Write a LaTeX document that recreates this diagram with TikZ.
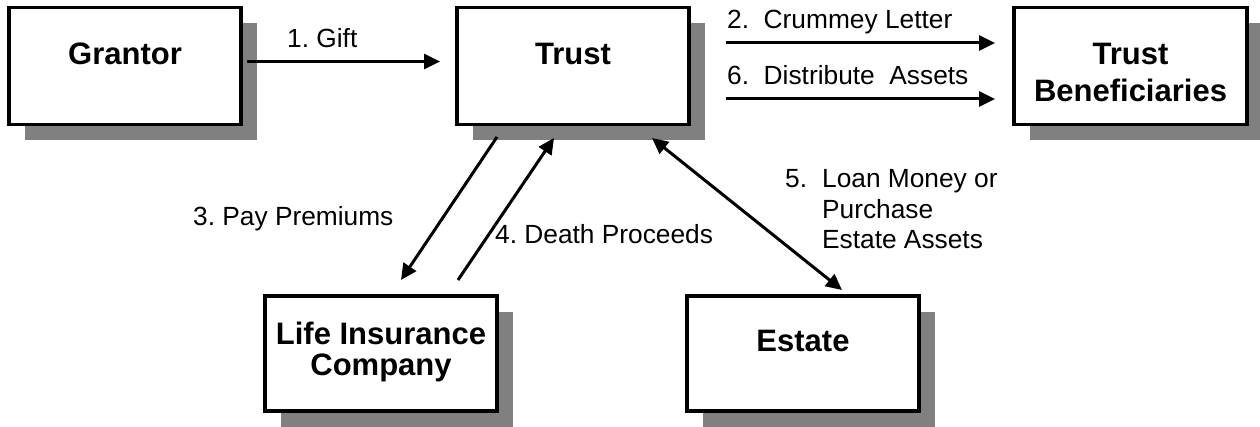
\documentclass[tikz,border=0pt]{standalone}
\usepackage{fontspec}
\setmainfont{Liberation Sans}
\usetikzlibrary{arrows.meta,shadows}
\definecolor{shadowgray}{HTML}{808080}
\begin{document}
\begin{tikzpicture}[x=1pt,y=1pt,
  box/.style={draw=black, line width=3.5pt, fill=white, minimum width=232pt, minimum height=117pt,
    inner sep=0pt, outer sep=0pt,
    general shadow={fill=shadowgray, shadow xshift=16pt, shadow yshift=-16pt}},
  btext/.style={font=\fontsize{31}{37}\selectfont\bfseries, align=center, anchor=base, inner sep=0pt},
  ltext/.style={font=\fontsize{26.3}{30.5}\selectfont\frenchspacing, anchor=base west, inner sep=0pt},
  tip/.tip={Triangle[length=16pt,width=15pt]},
  arr/.style={line width=3pt, -tip},
  darr/.style={line width=3pt, tip-tip}
]
\useasboundingbox (0,0) rectangle (1260,-427);

% boxes
\node[box] (grantor) at (125,-66) {};
\node[box] (trust) at (573,-66) {};
\node[box, minimum width=233pt] (benef) at (1130.5,-66) {};
\node[box, minimum height=115pt] (life) at (381,-353.5) {};
\node[box, minimum height=115pt] (estate) at (803,-353.5) {};

% box texts
\node[btext] (tgrantor) at (125,-65) {Grantor};
\node[btext] (ttrust) at (573,-65) {Trust};
\node[btext] (tbenef) at (1130.5,-102) {Trust\\Beneficiaries};
\node[btext, font=\fontsize{31}{31}\selectfont\bfseries] (tlife) at (381,-375) {Life Insurance\\Company};
\node[btext] (testate) at (803,-352) {Estate};

% connectors
\draw[arr] ([xshift=6pt,yshift=4.5pt]grantor.east) -- ([xshift=-17pt,yshift=4.5pt]trust.west);
\draw[arr] ([xshift=37pt,yshift=23pt]trust.east) -- ([xshift=-19pt,yshift=23pt]benef.west);
\draw[arr] ([xshift=37pt,yshift=-33pt]trust.east) -- ([xshift=-19pt,yshift=-33pt]benef.west);
\draw[arr] ([xshift=-76pt,yshift=-12.5pt]trust.south) -- ([xshift=20pt,yshift=16pt]life.north);
\draw[arr] ([xshift=77pt,yshift=16pt]life.north) -- ([xshift=-19pt,yshift=-13.5pt]trust.south);
\draw[darr] ([xshift=79pt,yshift=-13.5pt]trust.south) -- ([xshift=39pt,yshift=6pt]estate.north);

% labels
\node[ltext] (l1) at (287,-48) {1. Gift};
\node[ltext] (l2) at (727,-29) {2.\ \ Crummey Letter};
\node[ltext] (l6) at (727,-85) {6.\ \ Distribute\ \ Assets};
\node[ltext] (l3) at (193,-226) {3. Pay Premiums};
\node[ltext] (l4) at (495,-244) {4. Death Proceeds};
\node[ltext] (l5) at (785,-188) {\begin{tabular}[t]{@{}l@{\hspace{15pt}}l@{}}5.&Loan Money or\\&Purchase\\&Estate Assets\end{tabular}};
\end{tikzpicture}
\end{document}
